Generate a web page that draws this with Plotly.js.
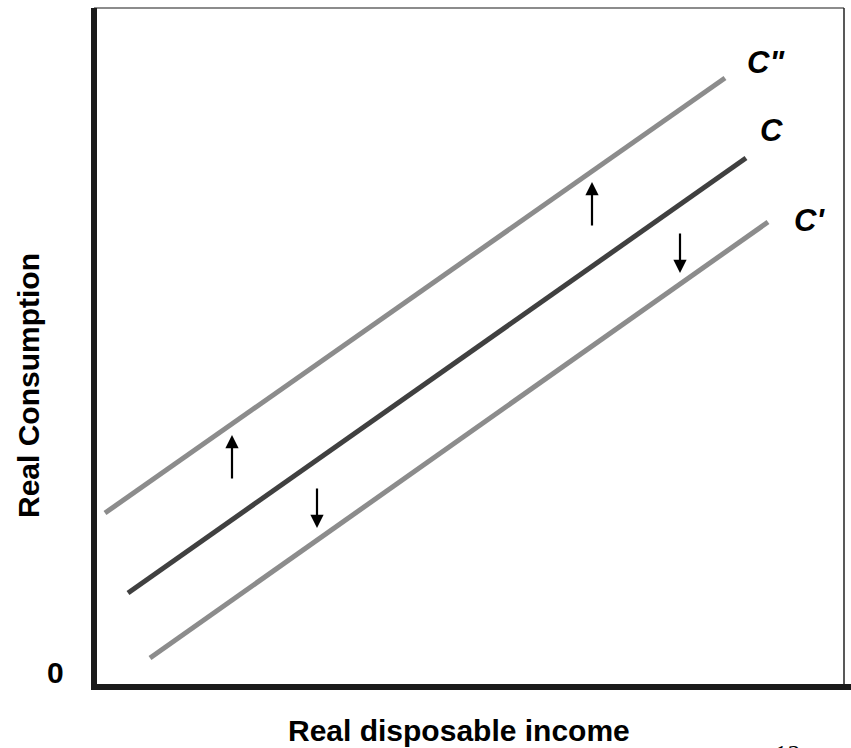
<!DOCTYPE html>
<html>
<head>
<meta charset="utf-8">
<script src="https://cdn.plot.ly/plotly-3.0.1.min.js"></script>
<style>html,body{margin:0;padding:0;background:#fff;}#chart{width:851px;height:748px;}</style>
</head>
<body>
<div id="chart"></div>
<script>
// Data (income / consumption units)
const incomeCpp = [11, 631];
const consCpp   = [174, 609];
const incomeC   = [34, 652];
const consC     = [94, 529];
const incomeCp  = [56, 674];
const consCp    = [29, 465];

// Shift arrows: x position, tail and head levels
const arrowX     = [138, 223, 498, 586];
const arrowTailY = [207, 200, 460, 455];
const arrowHeadY = [252, 159, 505, 414];

// Curve labels
const labelText = ['C"', 'C', "C'"];
const labelX    = [672, 677, 715];
const labelY    = [625, 557, 467];

const FONT = 'Arial, "Liberation Sans", Helvetica, sans-serif';
const gray = '#8c8c8c', dark = '#404040';

const traces = [
  {x: incomeCpp, y: consCpp, mode: 'lines', line: {color: gray, width: 5}, hoverinfo: 'skip'},
  {x: incomeC,   y: consC,   mode: 'lines', line: {color: dark, width: 5}, hoverinfo: 'skip'},
  {x: incomeCp,  y: consCp,  mode: 'lines', line: {color: gray, width: 5}, hoverinfo: 'skip'}
];

const annotations = [];
arrowX.forEach((x, i) => {
  annotations.push({
    x: x, y: arrowHeadY[i], xref: 'x', yref: 'y',
    ax: x, ay: arrowTailY[i], axref: 'x', ayref: 'y',
    text: '', showarrow: true, arrowhead: 2, arrowsize: 1.2, arrowwidth: 2.2, arrowcolor: '#000'
  });
});
labelText.forEach((t, i) => {
  annotations.push({
    x: labelX[i], y: labelY[i], xref: 'x', yref: 'y', showarrow: false,
    xanchor: 'center', yanchor: 'middle',
    text: '<b><i>' + t + '</i></b>', font: {family: FONT, size: 31, color: '#000'}
  });
});
annotations.push({
  x: (459 - 94) / 750, y: (687 - 730) / 679, xref: 'paper', yref: 'paper', showarrow: false,
  xanchor: 'center', yanchor: 'middle',
  text: '<b>Real disposable income</b>', font: {family: FONT, size: 30, color: '#000'}
});
annotations.push({
  x: (28 - 94) / 750, y: (687 - 386) / 679, xref: 'paper', yref: 'paper', showarrow: false,
  xanchor: 'center', yanchor: 'middle',
  text: '<b>Real Consumption</b>', textangle: -90, font: {family: FONT, size: 30, color: '#000'}
});
annotations.push({
  x: (55 - 94) / 750, y: (687 - 672) / 679, xref: 'paper', yref: 'paper', showarrow: false,
  xanchor: 'center', yanchor: 'middle',
  text: '<b>0</b>', font: {family: FONT, size: 30, color: '#000'}
});
annotations.push({
  x: (786 - 94) / 750, y: (687 - 738) / 679, xref: 'paper', yref: 'paper', showarrow: false,
  xanchor: 'center', yanchor: 'top',
  text: '<i>12</i>', font: {family: '"Liberation Serif", "Times New Roman", serif', size: 26, color: '#000'}
});

const layout = {
  width: 851, height: 748,
  margin: {l: 94, r: 7, t: 8, b: 61, pad: 0},
  paper_bgcolor: '#fff', plot_bgcolor: '#fff',
  showlegend: false,
  xaxis: {range: [0, 750], showgrid: false, zeroline: false, showline: false, showticklabels: false, ticks: '', fixedrange: true},
  yaxis: {range: [0, 679], showgrid: false, zeroline: false, showline: false, showticklabels: false, ticks: '', fixedrange: true},
  shapes: [
    {type: 'line', xref: 'paper', yref: 'paper', x0: 0, x1: 1, y0: 1, y1: 1, line: {color: '#666', width: 1.5}},
    {type: 'line', xref: 'paper', yref: 'paper', x0: 1, x1: 1, y0: 0, y1: 1, line: {color: '#222', width: 1.5}},
    {type: 'line', xref: 'paper', yref: 'paper', x0: 0, x1: 0, y0: -3/679, y1: 1, line: {color: '#1a1a1a', width: 6}},
    {type: 'line', xref: 'paper', yref: 'paper', x0: -3/750, x1: 1 + 7/750, y0: 0, y1: 0, line: {color: '#1a1a1a', width: 6}}
  ],
  annotations: annotations
};

Plotly.newPlot('chart', traces, layout, {displayModeBar: false, staticPlot: true});
</script>
</body>
</html>
